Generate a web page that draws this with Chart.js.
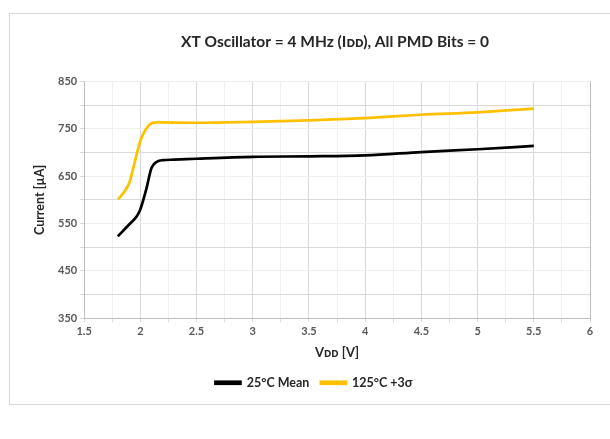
<!DOCTYPE html>
<html>
<head>
<meta charset="utf-8">
<script src="https://cdn.jsdelivr.net/npm/chart.js@4"></script>
<style>
  html, body { margin: 0; padding: 0; background: #fff; }
  #wrap { position: relative; width: 610px; height: 439px; overflow: hidden; }
  #frame { position: absolute; left: 9px; top: 13px; width: 640px; height: 390px; border: 1px solid #d9d9d9; }
  canvas { position: absolute; left: 0; top: 0; }
</style>
</head>
<body>
<div id="wrap">
  <div id="frame"></div>
  <canvas id="c" width="610" height="439"></canvas>
</div>
<script>
const vddMean = [1.8, 1.9, 1.97, 2.0, 2.05, 2.1, 2.15, 2.2, 2.3, 2.5, 3.0, 3.5, 4.0, 4.5, 5.0, 5.5];
const iddMean = [523, 548, 566, 580, 620, 668, 681, 684, 685, 687, 691, 692, 694, 701, 707, 714];

const vddHot = [1.8, 1.85, 1.9, 1.95, 2.0, 2.05, 2.1, 2.15, 2.2, 2.5, 3.0, 3.5, 4.0, 4.5, 5.0, 5.5];
const iddHot = [601, 615, 635, 680, 725, 750, 762, 764, 764, 763, 765, 768, 773, 780, 785, 793];

const seriesNames = ["25°C Mean", "125°C +3σ"];
const seriesColors = ["#000000", "#FFC000"];

const toPts = (xs, ys) => xs.map((x, i) => ({ x, y: ys[i] }));

Chart.defaults.font.family = "Lato, 'Open Sans', sans-serif";
Chart.defaults.font.weight = "bold";

const gridColor = (ctx) => {
    const v = ctx.tick ? ctx.tick.value : 0;
    return ctx.scale.axis === "y"
        ? (v % 100 === 50 ? "#f0f0f0" : "#d9d9d9")
        : (Math.abs((v * 2) % 1) > 0.01 ? "#f0f0f0" : "#d9d9d9");
};

new Chart(document.getElementById("c"), {
    type: "line",
    data: {
        datasets: [
            { label: seriesNames[0], data: toPts(vddMean, iddMean), borderColor: seriesColors[0], backgroundColor: seriesColors[0] },
            { label: seriesNames[1], data: toPts(vddHot, iddHot), borderColor: seriesColors[1], backgroundColor: seriesColors[1] }
        ]
    },
    options: {
        responsive: false,
        animation: false,
        layout: { padding: { top: 33, left: 28, right: 20, bottom: 40 } },
        elements: {
            point: { radius: 0 },
            line: { borderWidth: 2.7, cubicInterpolationMode: "monotone" }
        },
        plugins: {
            title: {
                display: true,
                text: "XT Oscillator = 4 MHz (Iᴅᴅ), All PMD Bits = 0",
                color: "#262626",
                font: { size: 15.5, weight: "bold" },
                padding: { top: 0, bottom: 30 }
            },
            legend: {
                position: "bottom",
                labels: { boxWidth: 25, boxHeight: 2, color: "#262626", font: { size: 12.5 }, padding: 11.5 }
            },
            tooltip: { enabled: false }
        },
        scales: {
            x: {
                type: "linear",
                min: 1.5, max: 6,
                ticks: {
                    stepSize: 0.25,
                    autoSkip: false,
                    maxRotation: 0,
                    padding: 3,
                    color: "#595959",
                    font: { size: 11 },
                    callback: v => (Math.abs((v * 2) % 1) < 0.01 ? String(v) : "")
                },
                grid: { color: gridColor, tickLength: 4, tickColor: "#d9d9d9" },
                border: { color: "#bfbfbf" },
                title: { display: true, text: "Vᴅᴅ [V]", color: "#262626", font: { size: 13 }, padding: { top: 4 } }
            },
            y: {
                min: 350, max: 850,
                ticks: {
                    stepSize: 50,
                    autoSkip: false,
                    color: "#595959",
                    font: { size: 11 },
                    callback: v => (v % 100 === 50 ? String(v) : "")
                },
                grid: { color: gridColor, tickLength: 4, tickColor: "#d9d9d9" },
                border: { color: "#bfbfbf" },
                title: { display: true, text: "Current [µA]", color: "#262626", font: { size: 12.5 }, padding: { bottom: 8 } }
            }
        }
    },
    plugins: [{
        id: "titleShift",
        afterLayout(chart) {
            // the reference title sits a bit right of the canvas centre
            if (chart.titleBlock) { chart.titleBlock.left += 26; chart.titleBlock.right += 26; }
            if (chart.legend) { chart.legend.left += 5; chart.legend.right += 5; }
        }
    }, {
        id: "rightEdge",
        afterDraw(chart) {
            const { ctx, chartArea: a } = chart;
            ctx.save();
            ctx.strokeStyle = "#bfbfbf";
            ctx.lineWidth = 1;
            ctx.beginPath();
            ctx.moveTo(Math.round(a.right) + 0.5, a.top);
            ctx.lineTo(Math.round(a.right) + 0.5, a.bottom);
            ctx.stroke();
            ctx.restore();
        }
    }]
});
</script>
</body>
</html>
